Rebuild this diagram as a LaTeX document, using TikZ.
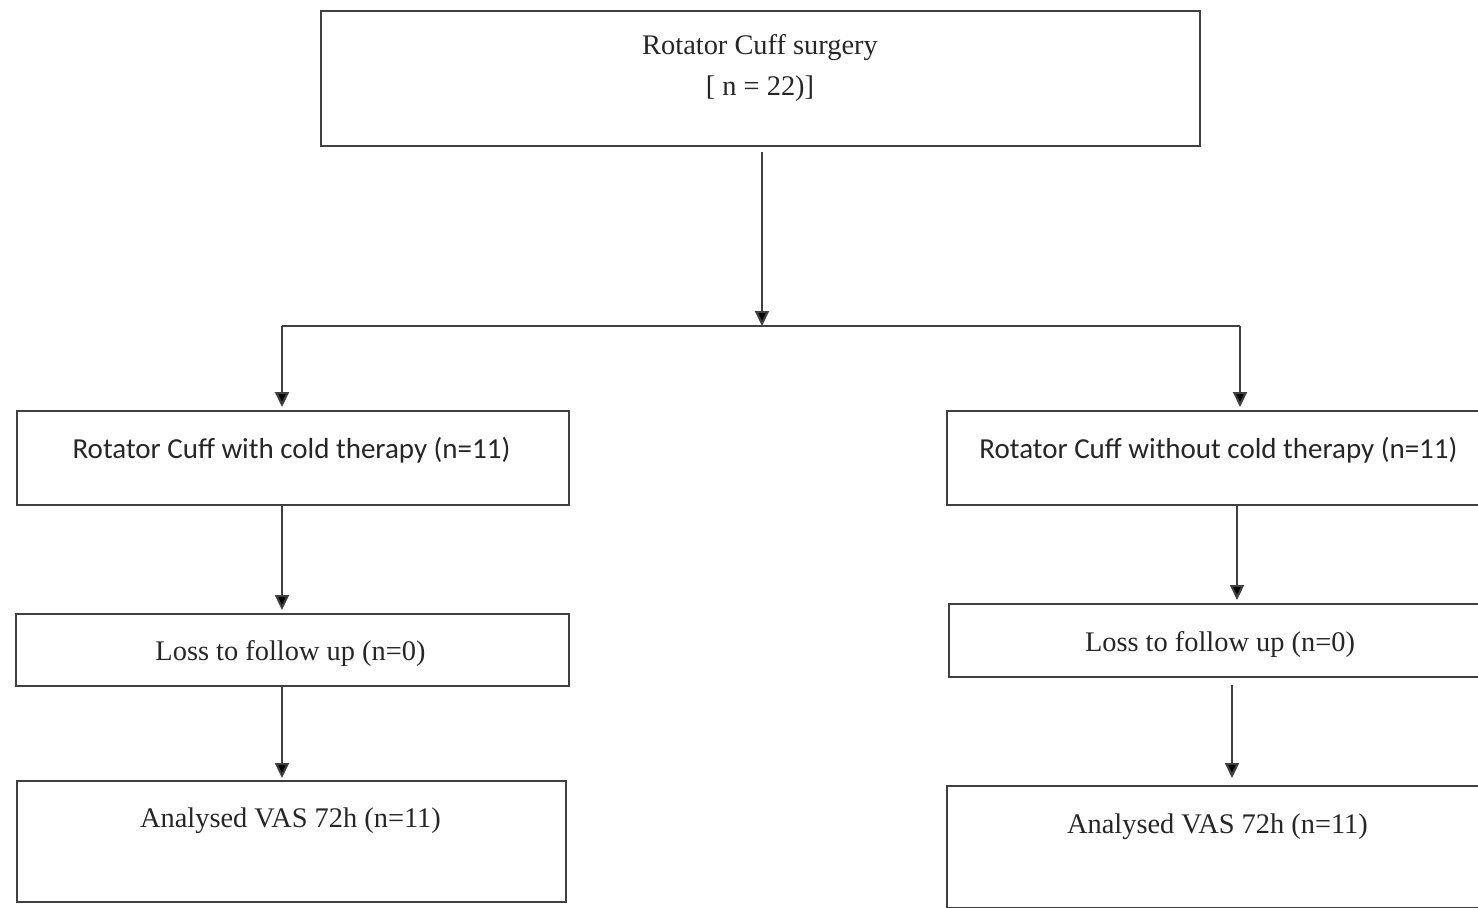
\documentclass[tikz,border=0pt]{standalone}
\usepackage{fontspec}
\setmainfont{Liberation Serif}
\newfontfamily\calibrifont{Carlito}
\usetikzlibrary{arrows.meta,calc}
\begin{document}
\begin{tikzpicture}[x=0.5pt,y=-0.5pt,
  box/.style={draw=black!75, line width=1.1pt, rectangle, inner sep=0pt, anchor=north west},
  conn/.style={draw=black!75, line width=1.1pt},
  arr/.style={conn, -{Triangle[length=7.5pt,width=7pt,fill=black]}},
  serif/.style={font=\fontsize{14.2}{17}\selectfont, text=black!85, anchor=base, inner sep=0pt},
  sans/.style={font=\calibrifont\fontsize{14.5}{17}\selectfont, text=black!85, anchor=base, inner sep=0pt}]
\useasboundingbox (0,0) rectangle (1478,907);
\clip (0,0) rectangle (1478,907);
% boxes
\node[box, minimum width=439.5pt, minimum height=67.5pt] (top) at (320,10) {};
\node[box, minimum width=276pt, minimum height=47pt] (l1) at (16,410) {};
\node[box, minimum width=276pt, minimum height=47pt] (r1) at (946,410) {};
\node[box, minimum width=276.5pt, minimum height=36pt] (l2) at (15,613) {};
\node[box, minimum width=276pt, minimum height=36.5pt] (r2) at (948,603) {};
\node[box, minimum width=274.5pt, minimum height=60.5pt] (l3) at (16,780) {};
\node[box, minimum width=276pt, minimum height=61pt] (r3) at (946,785) {};
% texts
\node[serif] (t0a) at (760,54) {Rotator Cuff surgery};
\node[serif] (t0b) at (760,95) {[ n = 22)]};
\node[sans] (tl1) at (291.5,458) {Rotator Cuff with cold therapy (n=11)};
\node[sans] (tr1) at (1218.5,458) {Rotator Cuff without cold therapy (n=11)};
\node[serif] (tl2) at (290.5,660) {Loss to follow up (n=0)};
\node[serif] (tr2) at (1220,651) {Loss to follow up (n=0)};
\node[serif] (tl3) at (290.5,827) {Analysed VAS 72h (n=11)};
\node[serif] (tr3) at (1217.5,833) {Analysed VAS 72h (n=11)};
% junction coordinates
\coordinate (split) at (762,326);
\coordinate (jl) at (282,326);
\coordinate (jr) at (1240,326);
\coordinate (xl) at (282,0);
\coordinate (xr2) at (1237,0);
\coordinate (xr3) at (1232,0);
% connectors
\draw[arr, shorten <=2.5pt] (top.south -| split) -- (split);
\draw[conn] (jl) -- (jr);
\draw[arr, shorten >=1.5pt] (jl) -- (l1.north -| jl);
\draw[arr, shorten >=1.5pt] (jr) -- (r1.north -| jr);
\draw[arr, shorten >=1.5pt] (l1.south -| xl) -- (l2.north -| xl);
\draw[arr, shorten >=1.5pt] (r1.south -| xr2) -- (r2.north -| xr2);
\draw[arr, shorten >=1pt] (l2.south -| xl) -- (l3.north -| xl);
\draw[arr, shorten <=3.5pt, shorten >=3.5pt] (r2.south -| xr3) -- (r3.north -| xr3);
\end{tikzpicture}
\end{document}
